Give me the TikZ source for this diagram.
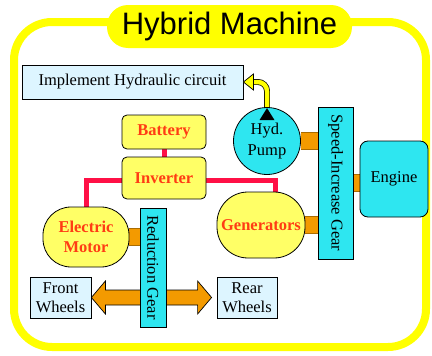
\documentclass[tikz,border=0pt]{standalone}
\usepackage{fontspec}
\setmainfont{Liberation Serif}
\newfontfamily\headfont{Liberation Sans}
\usepackage{tikz}
\usetikzlibrary{arrows.meta, backgrounds, calc}
\definecolor{framey}{HTML}{FFFF00}
\definecolor{unity}{HTML}{FFFF66}
\definecolor{gearcyan}{HTML}{2EE6F0}
\definecolor{wheelblue}{HTML}{DDF5FF}
\definecolor{linkorange}{HTML}{F39A00}
\definecolor{wirered}{HTML}{FF1046}
\definecolor{labelred}{HTML}{FF3C14}
\tikzset{
  frame/.style={draw=framey, line width=8pt, rounded corners=38pt},
  pill/.style={fill=framey, rounded corners=21pt, minimum width=245pt, minimum height=43pt,
               inner sep=0pt, font=\headfont\fontsize{31}{31}\selectfont},
  unittext/.style={text=labelred, align=center, inner sep=0pt,
                   font=\fontsize{16.5}{20}\selectfont\bfseries},
  unit/.style={unittext, rectangle, rounded corners=5pt, draw=black, fill=unity,
               line width=0.8pt, minimum width=84pt},
  motor/.style={unittext, rectangle, rounded corners=28pt, draw=black, fill=unity,
                line width=0.8pt},
  pump/.style={circle, draw=black, fill=gearcyan, line width=0.8pt, minimum size=67pt,
               inner sep=0pt, align=center, font=\fontsize{16.5}{21}\selectfont},
  gearbar/.style={rectangle, draw=black, fill=gearcyan, line width=0.8pt, rotate=-90,
                  inner sep=0pt, font=\fontsize{16.5}{20}\selectfont},
  enginebox/.style={rectangle, rounded corners=8pt, draw=black, fill=gearcyan,
                    line width=0.8pt, minimum width=68pt, minimum height=76pt,
                    font=\fontsize{16.5}{20}\selectfont},
  wheelbox/.style={rectangle, draw=black, fill=wheelblue, line width=0.8pt, inner sep=0pt,
                   align=center, font=\fontsize{16.5}{19.5}\selectfont},
  wire/.style={draw=wirered, line width=5pt},
  link/.style={draw=linkorange!70!black, line width=0.6pt, double=linkorange,
               double distance=16pt},
  pipe/.style={draw=black, line width=0.7pt, double=framey, double distance=4.5pt,
               rounded corners=9pt},
  bigarrow/.style={draw=black, fill=linkorange, line width=0.7pt, line join=miter},
}
\begin{document}
\begin{tikzpicture}[x=1pt, y=-1pt]
  \useasboundingbox (0,0) rectangle (432,356);
  \draw[frame] (14,22) rectangle (426,347);
  \node[pill] (title) at (229.5,26.5) {Hybrid Machine};

  \node[wheelbox, minimum width=221pt, minimum height=34pt] (hyd) at (132.5,82) {Implement Hydraulic circuit};
  \node[pump] (pump) at (267,141) {Hyd.\\Pump};
  \node[unit, minimum height=34pt] (bat) at (164,132) {Battery};
  \node[unit, minimum height=42pt] (inv) at (164,178) {Inverter};
  \node[motor, minimum width=86pt, minimum height=60pt] (motor) at (86,237) {Electric\\Motor};
  \node[motor, minimum width=88pt, minimum height=66pt, rounded corners=31pt] (gen) at (261,225) {Generators};
  \node[gearbar, minimum width=152pt, minimum height=35pt] (spgear) at (335.5,183) {Speed-Increase Gear};
  \node[gearbar, minimum width=119pt, minimum height=26pt] (redgear) at (153,267.5) {Reduction Gear};
  \node[enginebox] (eng) at (394,179) {Engine};
  \node[wheelbox, minimum width=61pt, minimum height=41pt] (front) at (60.5,297.5) {Front\\Wheels};
  \node[wheelbox, minimum width=60pt, minimum height=41pt] (rear) at (247,297.5) {Rear\\Wheels};

  % pump marker and hydraulic arrow head
  \fill ([yshift=-1pt]pump.north) -- ([xshift=-7.5pt,yshift=-13pt]pump.north)
    -- ([xshift=7.5pt,yshift=-13pt]pump.north) -- cycle;
  \filldraw[fill=framey, line width=0.7pt] (hyd.east) -- ([xshift=10pt,yshift=8pt]hyd.east)
    -- ([xshift=10pt,yshift=-8pt]hyd.east) -- cycle;

  \begin{scope}[on background layer]
    \draw[wire] (bat) -- (inv);
    \draw[wire] ([yshift=-2pt]inv.west) -| ([yshift=-6pt]motor.north);
    \draw[wire] ([yshift=-2pt]inv.east) -| ([xshift=14pt,yshift=-6pt]gen.north);
    \coordinate (engl) at ([yshift=-4pt]eng.west);
    \draw[link] (motor) -- (motor -| redgear);
    \draw[link] (pump) -- (pump -| spgear);
    \draw[link] (gen) -- (gen -| spgear);
    \draw[link] (engl) -- (engl -| spgear);
    \draw[pipe] ([yshift=-8pt]pump.north) |- ([xshift=10pt]hyd.east);
    \coordinate (fa) at (front.east);
    \coordinate (ra) at ([xshift=-5pt]rear.west);
    \draw[bigarrow] (fa) -- ++(14,-16.5) -- ++(0,9) -- ($(ra)+(-14,-7.5)$) -- ++(0,-9)
      -- (ra) -- ++(-14,16.5) -- ++(0,-9) -- ($(fa)+(14,7.5)$) -- ++(0,9) -- cycle;
  \end{scope}
\end{tikzpicture}
\end{document}
